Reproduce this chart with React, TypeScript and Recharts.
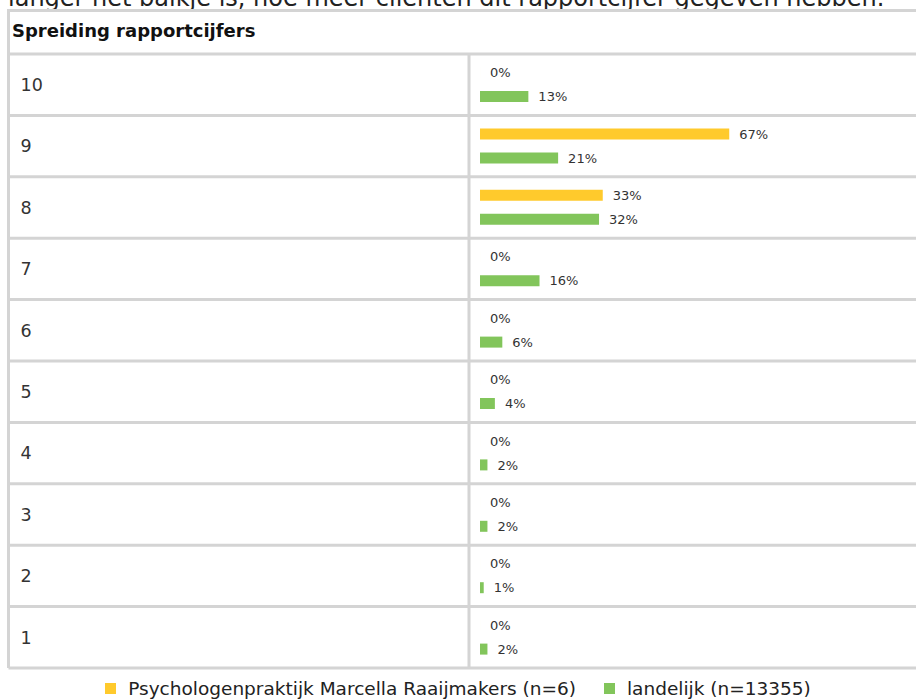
import React from "react";
import { Bar, BarChart, CartesianGrid, LabelList, Legend, XAxis, YAxis } from "recharts";

const GRADES = ["10", "9", "8", "7", "6", "5", "4", "3", "2", "1"];
const PRAKTIJK = [0, 67, 33, 0, 0, 0, 0, 0, 0, 0];
const LANDELIJK = [13, 21, 32, 16, 6, 4, 2, 2, 1, 2];
const SERIES_NAMES = [
  "Psychologenpraktijk Marcella Raaijmakers (n=6)",
  "landelijk (n=13355)",
];

const data = GRADES.map((grade, i) => ({
  grade,
  praktijk: PRAKTIJK[i],
  landelijk: LANDELIJK[i],
}));

const W = 916;
const H = 699;
const PLOT_LEFT = 8.5;
const PLOT_TOP = 54;
const LEGEND_H = 31;
const BAR_START = 480; // where the 0% baseline sits
const PX_PER_PCT = 3.72;
const DIVIDER_X = 469;
const X_DOMAIN = [-(BAR_START - PLOT_LEFT) / PX_PER_PCT, (W - BAR_START) / PX_PER_PCT];

const BORDER = "#d4d4d4";
const FONT = "'DejaVu Sans', Verdana, sans-serif";

// one line on every row edge (band boundaries of the category axis)
const rowEdges = ({ offset }: any) =>
  Array.from({ length: GRADES.length + 1 }, (_, i) => offset.top + (i * offset.height) / GRADES.length);

function LegendContent(props: any) {
  const payload = props.payload || [];
  return (
    <div
      style={{
        height: LEGEND_H,
        paddingTop: 10,
        boxSizing: "border-box",
        display: "flex",
        justifyContent: "center",
        fontSize: 18.5,
        lineHeight: "22px",
        color: "#222",
      }}
    >
      {payload.map((p: any, i: number) => (
        <span
          key={i}
          style={{ display: "flex", alignItems: "center", marginLeft: i ? 28 : 0 }}
        >
          <span
            style={{ width: 11, height: 11, background: p.color, marginRight: 12 }}
          />
          {p.value}
        </span>
      ))}
    </div>
  );
}

export default function App() {
  return (
    <div
      style={{
        position: "absolute",
        left: 0,
        top: 0,
        width: W,
        height: H,
        overflow: "hidden",
        background: "#fff",
        fontFamily: FONT,
      }}
    >
      <div
        style={{
          position: "absolute",
          left: 8,
          top: -16.5,
          fontSize: 24,
          color: "#222",
          whiteSpace: "nowrap",
        }}
      >
        langer het balkje is, hoe meer cliënten dit rapportcijfer gegeven hebben.
      </div>

      <BarChart
        width={W}
        height={H}
        data={data}
        layout="vertical"
        margin={{ top: PLOT_TOP, right: 0, bottom: 0, left: PLOT_LEFT }}
        barSize={11}
        barGap={13}
      >
        <CartesianGrid
          stroke={BORDER}
          strokeWidth={3}
          horizontalCoordinatesGenerator={rowEdges}
          verticalPoints={[PLOT_LEFT, DIVIDER_X]}
        />
        <XAxis type="number" domain={X_DOMAIN} allowDataOverflow hide />
        <YAxis
          dataKey="grade"
          type="category"
          mirror
          width={60}
          axisLine={false}
          tickLine={false}
          tickSize={0}
          tickMargin={12}
          tick={{ fill: "#333", fontSize: 17.5 }}
        />
        <Legend verticalAlign="bottom" content={<LegendContent />} wrapperStyle={{ left: 0, width: W }} />
        <Bar
          dataKey="praktijk"
          name={SERIES_NAMES[0]}
          fill="#ffca2c"
          minPointSize={0.01}
          isAnimationActive={false}
        >
          <LabelList
            dataKey={(d: any) => `${d.praktijk}%`}
            position="right"
            offset={10}
            fill="#333"
            fontSize={13}
          />
        </Bar>
        <Bar
          dataKey="landelijk"
          name={SERIES_NAMES[1]}
          fill="#82c55b"
          minPointSize={0.01}
          isAnimationActive={false}
        >
          <LabelList
            dataKey={(d: any) => `${d.landelijk}%`}
            position="right"
            offset={10}
            fill="#333"
            fontSize={13}
          />
        </Bar>
      </BarChart>

      <div
        style={{
          position: "absolute",
          left: 7,
          top: 9,
          width: W + 20,
          height: PLOT_TOP - 9,
          boxSizing: "border-box",
          borderTop: `3px solid ${BORDER}`,
          borderLeft: `3px solid ${BORDER}`,
          paddingTop: 8,
          paddingLeft: 2,
          fontSize: 18,
          fontWeight: "bold",
          color: "#111",
        }}
      >
        Spreiding rapportcijfers
      </div>
    </div>
  );
}
